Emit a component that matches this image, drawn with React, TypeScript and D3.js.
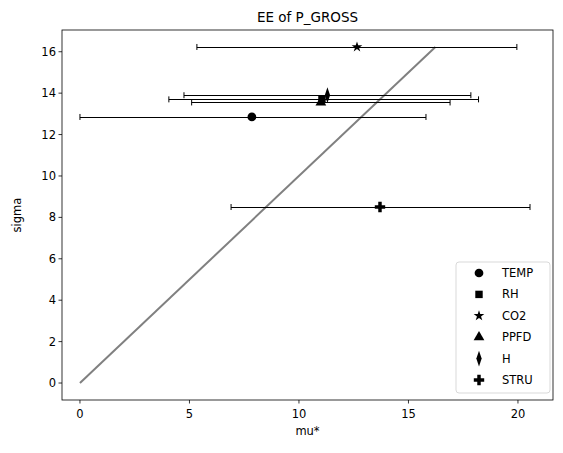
import * as d3 from 'd3';

const names = ['TEMP', 'RH', 'CO2', 'PPFD', 'H', 'STRU'];
const mu = [7.85, 11.05, 12.65, 11.0, 11.3, 13.7];
const sigma = [12.85, 13.7, 16.23, 13.55, 13.9, 8.5];
const lo = [0.0, 4.06, 5.34, 5.1, 4.75, 6.9];
const hi = [15.8, 18.2, 19.95, 16.9, 17.85, 20.55];
const xTicks = [0, 5, 10, 15, 20];
const yTicks = [0, 2, 4, 6, 8, 10, 12, 14, 16];
const lineMax = 16.23;

const symbols = [d3.symbolCircle, d3.symbolSquare, d3.symbolStar, d3.symbolTriangle, d3.symbolDiamond, d3.symbolCross];
const sizes = [60, 55, 35, 50, 50, 60];

export default function App() {
  const W = 563, H = 453;
  const m = { left: 62, right: 553, top: 30, bottom: 400 };
  const x = d3.scaleLinear().domain([-0.82, 21.6]).range([m.left, m.right]);
  const y = d3.scaleLinear().domain([-0.82, 17.05]).range([m.bottom, m.top]);
  const font = 'DejaVu Sans, sans-serif';
  return (
    <svg width={W} height={H} style={{ position: 'absolute', left: 0, top: 0 }} fontFamily={font}>
      <rect width={W} height={H} fill="white" />
      <line x1={x(0)} y1={y(0)} x2={x(lineMax)} y2={y(lineMax)} stroke="#808080" strokeWidth={2} />
      {names.map((n, i) => (
        <g key={n}>
          <line x1={x(lo[i])} x2={x(hi[i])} y1={Math.round(y(sigma[i])) + 0.5} y2={Math.round(y(sigma[i])) + 0.5} stroke="black" strokeWidth={1} />
          {[lo[i], hi[i]].map((v, j) => (
            <line key={j} x1={x(v)} x2={x(v)} y1={y(sigma[i]) - 3} y2={y(sigma[i]) + 3} stroke="black" strokeWidth={1} />
          ))}
          <path d={d3.symbol(symbols[i], sizes[i])()!} transform={`translate(${x(mu[i])},${y(sigma[i])})${i === 4 ? ' scale(0.7,1.2)' : ''}`} fill="black" />
        </g>
      ))}
      <rect x={m.left} y={m.top} width={m.right - m.left} height={m.bottom - m.top} fill="none" stroke="black" strokeWidth={0.8} />
      {xTicks.map(t => (
        <g key={t}>
          <line x1={x(t)} x2={x(t)} y1={m.bottom} y2={m.bottom + 3.5} stroke="black" strokeWidth={0.8} />
          <text x={x(t)} y={m.bottom + 18} textAnchor="middle" fontSize={11.5}>{t}</text>
        </g>
      ))}
      {yTicks.map(t => (
        <g key={t}>
          <line x1={m.left - 3.5} x2={m.left} y1={y(t)} y2={y(t)} stroke="black" strokeWidth={0.8} />
          <text x={m.left - 6} y={y(t) + 4} textAnchor="end" fontSize={11.5}>{t}</text>
        </g>
      ))}
      <text x={(m.left + m.right) / 2} y={m.bottom + 35} textAnchor="middle" fontSize={11.5}>mu*</text>
      <text transform={`translate(21,${(m.top + m.bottom) / 2}) rotate(-90)`} textAnchor="middle" fontSize={11.5}>sigma</text>
      <text x={(m.left + m.right) / 2} y={m.top - 8} textAnchor="middle" fontSize={13.5}>EE of P_GROSS</text>
      <rect x={456} y={262} width={94} height={131} rx={3} fill="white" stroke="#cccccc" strokeWidth={0.8} opacity={0.9} />
      {names.map((n, i) => (
        <g key={n} transform={`translate(0,${273 + i * 21.4})`}>
          <path d={d3.symbol(symbols[i], sizes[i])()!} transform={`translate(479,0)${i === 4 ? ' scale(0.7,1.2)' : ''}`} fill="black" />
          <text x={502} y={4} fontSize={11.5}>{n}</text>
        </g>
      ))}
    </svg>
  );
}
